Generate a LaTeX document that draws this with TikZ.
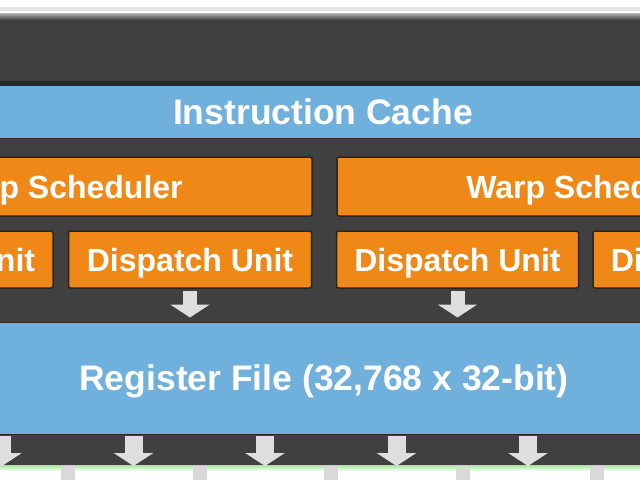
\documentclass[tikz,border=0pt]{standalone}
\usepackage{fontspec}
\setmainfont{Liberation Sans}
\usetikzlibrary{arrows.meta}
\definecolor{smgray}{RGB}{64,64,64}
\definecolor{smedge}{RGB}{40,40,40}
\definecolor{cacheblue}{RGB}{111,176,221}
\definecolor{unitorange}{RGB}{240,136,24}
\definecolor{arrowgray}{RGB}{222,222,222}
\definecolor{coregreen}{RGB}{160,232,150}
\tikzset{
  bluebar/.style={fill=cacheblue, draw=smedge, line width=1pt, text=white,
    font=\bfseries\fontsize{35.5}{40}\selectfont, inner sep=0pt, text depth=0pt},
  unitbox/.style={fill=unitorange, draw=black!85, line width=1.5pt, rounded corners=2pt,
    text=white, font=\bfseries\fontsize{32}{36}\selectfont, inner sep=0pt, text depth=0pt,
    minimum height=57pt},
  downarrow/.style={draw=arrowgray, line width=14pt, -{Triangle[width=39pt,length=13pt]}, shorten <=2pt}
}
\begin{document}
\begin{tikzpicture}[x=1pt,y=-1pt]
\useasboundingbox (0,0) rectangle (640,480);
\clip (0,0) rectangle (640,480);
% dark frame of the multiprocessor
\fill[white] (0,0) rectangle (640,480);
\fill[gray!20] (0,7) rectangle (640,11);
\shade[top color=gray!60, bottom color=smgray] (0,13) rectangle (640,20);
\fill[smgray] (0,20) rectangle (640,466);
\fill[smedge] (0,81) rectangle (640,86);
\node (icache) [bluebar, minimum width=700pt, minimum height=53pt] at (323,111.5) {Instruction Cache};
% schedulers and dispatch units
\node (sched1) [unitbox, minimum width=501pt, minimum height=59pt] at (61.5,186.5) {Warp Scheduler};
\node (sched2) [unitbox, minimum width=501pt, minimum height=59pt] at (587.5,186.5) {Warp Scheduler};
\node (disp1) [unitbox, minimum width=242pt] at (-68,259.5) {Dispatch Unit};
\node (disp2) [unitbox, minimum width=243pt] at (190,259.5) {Dispatch Unit};
\node (disp3) [unitbox, minimum width=242pt] at (457.5,259.5) {Dispatch Unit};
\node (disp4) [unitbox, minimum width=242pt] at (714,259.5) {Dispatch Unit};
\node (regfile) [bluebar, minimum width=700pt, minimum height=112pt] at (324,378) {Register File (32,768 x 32-bit)};
\foreach \d in {disp2,disp3}
  \draw[downarrow, shorten >=4pt] (\d.south) -- (\d.south |- regfile.north);
% top of the core columns
\fill[white] (0,466) rectangle (640,480);
\shade[top color=coregreen, bottom color=white] (0,465) rectangle (640,471);
\foreach \x in {68,200,331,463,597}
  \fill[gray!30] (\x-7,466) rectangle (\x+7,480);
\foreach \x [count=\i] in {2,133.5,265,396.5,528,659.5} {
  \coordinate (core\i) at (\x,466);
  \draw[downarrow, line width=18pt, shorten <=1pt] (core\i |- regfile.south) -- (core\i);
}
\end{tikzpicture}
\end{document}
